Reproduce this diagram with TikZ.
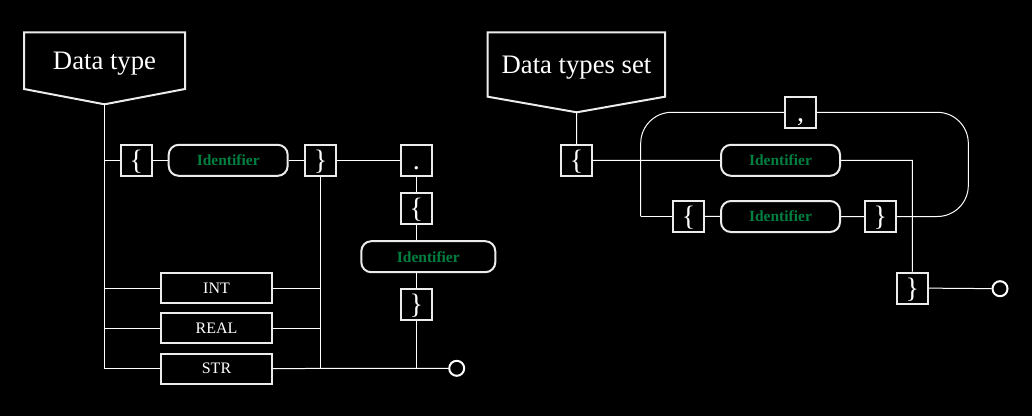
\documentclass[tikz,border=0pt]{standalone}
\usepackage{fontspec}
\setmainfont{Liberation Serif}
\begin{document}
\begin{tikzpicture}[x=1pt,y=-1pt,
  line/.style={white,line width=1pt},
  frame/.style={draw=white!85!gray,line width=2pt},
  title/.style={text=white,font=\fontsize{26.7}{30}\selectfont},
  brace/.style={frame,minimum size=31pt,inner sep=0pt,text=white,
    text height=20pt,text depth=2pt,font=\fontsize{28}{30}\selectfont},
  ident/.style={frame,rounded corners=10pt,minimum width=119pt,minimum height=31pt,
    inner sep=0pt,text=idgreen,font=\fontsize{15.5}{18}\selectfont\bfseries},
  kind/.style={frame,minimum width=111pt,minimum height=30pt,inner sep=0pt,
    text=white,font=\fontsize{16}{18}\selectfont},
  stop/.style={circle,draw=white,line width=2pt,minimum size=15pt,inner sep=0pt}
]
\definecolor{idgreen}{RGB}{0,128,64}
\fill[black] (0,0) rectangle (1032,416);

% Data type
\node[title] (titleA) at (104.5,64) {Data type};
\coordinate (tipA) at (104.5,104.3);
\draw[frame] (24,32.3) -- (185,32.3) -- (185,89) -- (tipA) -- (24,89) -- cycle;

\node[brace] (lbrA) at (136.3,160.3) {\{};
\node[ident] (idA) at (228.2,160.3) {Identifier};
\node[brace] (rbrA) at (320.6,160.3) {\}};
\node[brace] (dotA) at (416.3,160.3) {.};
\node[brace] (lbrB) at (416.3,208.3) {\{};
\node[ident,minimum width=134pt] (idB) at (428.3,256.7) {Identifier};
\node[brace] (rbrB) at (416.3,304) {\}};
\node[kind] (int) at (216.5,288.3) {INT};
\node[kind] (real) at (216.5,328.3) {REAL};
\node[kind] (str) at (216.5,368.6) {STR};
\node[stop] (endA) at (456.7,368.3) {};

\draw[line] (tipA) |- (str);
\draw[line] (tipA |- lbrA) -- (lbrA) -- (idA) -- (rbrA) -- (dotA) -- (lbrB);
\draw[line] (tipA |- int) -- (int);
\draw[line] (tipA |- real) -- (real);
\draw[line] (int) -- (rbrA |- int);
\draw[line] (real) -- (rbrA |- real);
\draw[line] (rbrA) |- (endA);
\draw[line] (str) -- (endA);
\draw[line] (lbrB) -- (lbrB |- idB.north);
\draw[line] (lbrB |- idB.south) -- (rbrB);
\draw[line] (rbrB) -- (rbrB |- endA);

% Data types set
\node[title] (titleB) at (576.5,68) {Data types set};
\coordinate (tipB) at (576.7,112.3);
\draw[frame] (487.7,32.3) -- (665,32.3) -- (665,96.7) -- (tipB) -- (487.7,96.7) -- cycle;

\node[brace] (lbrC) at (576.7,160.3) {\{};
\node[ident] (idC) at (780.5,160.3) {Identifier};
\node[brace] (comma) at (800.7,112.3) {,};
\node[brace] (lbrD) at (688.7,216.3) {\{};
\node[ident] (idD) at (780.5,216.5) {Identifier};
\node[brace] (rbrD) at (880.3,216.5) {\}};
\node[brace] (rbrC) at (912.3,288) {\}};
\node[stop] (endB) at (1000,288.7) {};
\coordinate (loopL) at (640.7,216.3);
\coordinate (loopR) at (968.3,216.5);

\draw[line] (tipB) -- (lbrC) -- (idC) -| (rbrC) -- (endB);
\draw[line] (lbrD) -- (idD) -- (rbrD);
\draw[line] (lbrD) -- (loopL);
\draw[line,rounded corners=31pt] (loopL) |- (comma);
\draw[line,rounded corners=31pt] (comma) -| (loopR) -- (rbrD);

\end{tikzpicture}
\end{document}
